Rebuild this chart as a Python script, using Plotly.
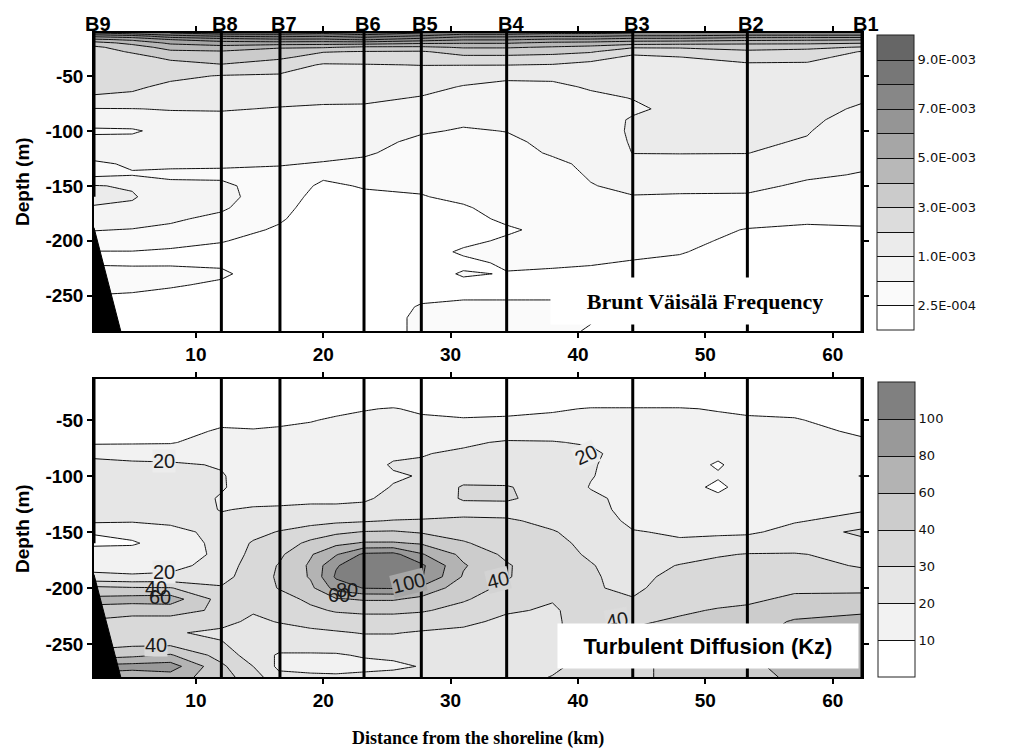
import numpy as np
import plotly.graph_objects as go

# ---------------- Brunt-Väisälä frequency (N², units of 1e-3 s^-2) ----------------
n2_depth = [-11, -14, -17, -20, -24, -28, -33, -40, -50, -60, -70, -80, -90, -100, -110,
            -120, -130, -140, -150, -160, -170, -180, -190, -200, -210, -220, -230, -240,
            -250, -260, -270, -282]
n2_dist = [2, 5, 8, 12, 16.5, 20, 23.2, 27.7, 31, 34.4, 38, 41, 44.3, 48, 53.3, 58, 62.3]

n2_km02 = [8.0, 6.2, 4.8, 3.6, 2.8, 2.6, 2.5, 2.4, 2.3, 2.25, 1.9, 0.98, 0.8, 0.45, 0.7, 0.6,
           0.48, 0.45, 1.05, 1.2, 0.97, 0.7, 0.52, 0.4, 0.24, 0.22, 0.35, 0.35, 0.24, 0.15, 0.12, 0.1]
n2_km05 = [8.5, 6.5, 5.2, 4.3, 3.5, 3.1, 2.7, 2.5, 2.35, 2.15, 1.8, 0.99, 0.85, 0.46, 0.7, 0.62,
           0.53, 0.49, 0.95, 1.1, 0.9, 0.7, 0.49, 0.4, 0.24, 0.22, 0.32, 0.3, 0.23, 0.15, 0.12, 0.1]
n2_km08 = [9.0, 7.5, 6.0, 5.2, 4.4, 3.8, 3.2, 2.7, 2.2, 1.8, 1.5, 1.05, 0.85, 0.72, 0.68, 0.62,
           0.55, 0.47, 0.58, 0.7, 0.65, 0.56, 0.46, 0.32, 0.22, 0.23, 0.3, 0.27, 0.2, 0.15, 0.13, 0.1]
n2_km12 = [9.5, 8.0, 6.5, 5.6, 4.6, 3.9, 3.5, 2.95, 1.95, 1.6, 1.35, 1.08, 0.85, 0.75, 0.7, 0.62,
           0.54, 0.47, 0.56, 0.62, 0.56, 0.45, 0.35, 0.26, 0.2, 0.22, 0.28, 0.22, 0.18, 0.15, 0.12, 0.1]
n2_km16 = [9.5, 8.2, 6.8, 5.6, 4.1, 3.6, 3.2, 2.5, 1.9, 1.55, 1.3, 0.97, 0.85, 0.75, 0.68, 0.6,
           0.52, 0.46, 0.42, 0.38, 0.33, 0.28, 0.22, 0.18, 0.15, 0.14, 0.13, 0.12, 0.12, 0.11, 0.1, 0.1]
n2_km20 = [9.2, 8.0, 6.8, 5.5, 4.1, 3.05, 2.6, 1.9, 1.6, 1.35, 1.15, 0.95, 0.85, 0.75, 0.68, 0.58,
           0.49, 0.3, 0.2, 0.15, 0.12, 0.11, 0.1, 0.1, 0.1, 0.1, 0.1, 0.1, 0.1, 0.1, 0.1, 0.1]
n2_km23 = [9.6, 8.4, 7.1, 5.5, 3.8, 2.95, 2.5, 1.95, 1.65, 1.4, 1.2, 0.92, 0.82, 0.72, 0.65, 0.56,
           0.45, 0.35, 0.27, 0.2, 0.15, 0.13, 0.12, 0.12, 0.11, 0.1, 0.1, 0.1, 0.1, 0.1, 0.1, 0.1]
n2_km28 = [9.0, 7.8, 6.5, 5.2, 3.8, 2.9, 2.5, 2.02, 1.6, 1.3, 0.97, 0.85, 0.7, 0.55, 0.45, 0.4,
           0.36, 0.32, 0.28, 0.24, 0.2, 0.18, 0.17, 0.16, 0.16, 0.15, 0.16, 0.18, 0.2, 0.27, 0.3, 0.3]
n2_km31 = [8.5, 7.2, 6.1, 5.1, 4.1, 3.4, 2.8, 2.02, 1.4, 0.97, 0.85, 0.72, 0.58, 0.48, 0.42, 0.4,
           0.38, 0.36, 0.33, 0.29, 0.23, 0.18, 0.17, 0.2, 0.28, 0.2, 0.27, 0.2, 0.22, 0.3, 0.32, 0.32]
n2_km34 = [8.5, 7.2, 6.1, 5.1, 4.1, 3.4, 2.8, 2.02, 1.15, 0.9, 0.8, 0.72, 0.62, 0.51, 0.46, 0.43,
           0.4, 0.38, 0.36, 0.34, 0.32, 0.29, 0.22, 0.28, 0.3, 0.28, 0.24, 0.2, 0.22, 0.3, 0.32, 0.32]
n2_km38 = [8.2, 7.05, 5.8, 4.8, 3.9, 3.3, 2.7, 1.95, 1.2, 0.9, 0.8, 0.75, 0.7, 0.65, 0.6, 0.54,
           0.46, 0.42, 0.38, 0.35, 0.33, 0.32, 0.31, 0.3, 0.29, 0.27, 0.23, 0.2, 0.22, 0.3, 0.3, 0.28]
n2_km41 = [8.2, 7.05, 5.8, 4.7, 3.7, 3.1, 2.4, 1.7, 1.4, 1.1, 0.9, 0.82, 0.75, 0.7, 0.66, 0.62,
           0.58, 0.54, 0.49, 0.45, 0.4, 0.36, 0.33, 0.31, 0.29, 0.26, 0.22, 0.2, 0.2, 0.24, 0.26, 0.24]
n2_km44 = [8.0, 6.8, 5.5, 4.5, 3.1, 2.3, 1.8, 1.6, 1.4, 1.2, 1.03, 0.92, 1.1, 1.15, 1.1, 1.02,
           0.85, 0.7, 0.6, 0.49, 0.42, 0.37, 0.33, 0.3, 0.28, 0.24, 0.2, 0.18, 0.17, 0.16, 0.15, 0.15]
n2_km48 = [8.0, 6.8, 5.5, 4.4, 3.1, 2.5, 1.98, 1.7, 1.5, 1.35, 1.3, 1.25, 1.2, 1.15, 1.1, 1.03,
           0.85, 0.72, 0.6, 0.48, 0.42, 0.37, 0.33, 0.3, 0.26, 0.22, 0.2, 0.18, 0.17, 0.16, 0.15, 0.15]
n2_km53 = [8.0, 6.5, 5.3, 4.2, 3.4, 2.8, 2.4, 1.85, 1.6, 1.45, 1.35, 1.3, 1.25, 1.2, 1.12, 1.02,
           0.85, 0.7, 0.58, 0.48, 0.4, 0.32, 0.24, 0.2, 0.18, 0.17, 0.16, 0.15, 0.15, 0.15, 0.15, 0.15]
n2_km58 = [8.0, 6.5, 5.2, 4.2, 3.3, 2.6, 2.2, 1.9, 1.6, 1.45, 1.35, 1.25, 1.15, 1.05, 0.97, 0.8,
           0.65, 0.55, 0.47, 0.4, 0.34, 0.28, 0.22, 0.18, 0.17, 0.16, 0.15, 0.15, 0.15, 0.15, 0.15, 0.15]
n2_km62 = [8.0, 6.5, 5.1, 4.1, 2.9, 1.95, 1.75, 1.6, 1.4, 1.25, 1.1, 0.95, 0.85, 0.75, 0.68, 0.62,
           0.55, 0.49, 0.44, 0.38, 0.33, 0.29, 0.23, 0.2, 0.18, 0.17, 0.16, 0.15, 0.15, 0.15, 0.15, 0.15]

n2_columns = [n2_km02, n2_km05, n2_km08, n2_km12, n2_km16, n2_km20, n2_km23, n2_km28, n2_km31,
              n2_km34, n2_km38, n2_km41, n2_km44, n2_km48, n2_km53, n2_km58, n2_km62]

# contour levels (s^-2) and their colour-bar labels
n2_levels = [2.5e-4, 5e-4, 1e-3, 2e-3, 3e-3, 4e-3, 5e-3, 6e-3, 7e-3, 8e-3, 9e-3]
n2_labelled = [2.5e-4, 1e-3, 3e-3, 5e-3, 7e-3, 9e-3]
n2_label_text = ["2.5E-004", "1.0E-003", "3.0E-003", "5.0E-003", "7.0E-003", "9.0E-003"]

# ---------------- Turbulent diffusion Kz ----------------
kz_depth = [-13, -30, -40, -50, -60, -70, -80, -90, -100, -110, -120, -130, -140, -150, -160,
            -170, -180, -190, -200, -210, -220, -230, -240, -250, -260, -270, -280]
kz_dist = [2, 5, 8, 12, 14.5, 16.5, 19, 21, 23.2, 25.5, 27.7, 31, 34.4, 38, 41, 44.3, 48, 51,
           53.3, 57, 62.3]

kz_km02 = [3, 4, 5, 6, 7, 8.5, 17.5, 23, 25, 26, 26, 25, 22, 10.5, 8.5, 14, 17, 22, 45, 65, 55,
           38, 32, 36, 50, 85, 75]
kz_km05 = [3, 4, 5, 6, 7, 9, 16, 22, 25, 26, 26, 25, 21, 13, 9, 14, 17, 21, 42, 68, 48, 36, 31,
           38, 55, 88, 65]
kz_km08 = [3, 4, 5, 6, 7, 9.5, 14, 22, 25, 27, 27, 26, 22, 17, 14, 15, 17, 22, 41, 70, 48, 36,
           31, 38, 62, 90, 70]
kz_km12 = [3, 4, 5, 8, 11, 13, 16, 19, 21, 21, 19, 19.5, 22, 23, 23, 22, 24, 26, 31, 36, 38, 33,
           28, 31, 36, 44, 48]
kz_km14 = [3, 4, 5, 8, 10.5, 12, 13, 14, 14, 15, 17, 21, 24, 27, 31, 33, 35, 36, 34, 32, 31, 28,
           26, 24, 25, 30, 35]
kz_km16 = [3, 4, 6, 8.5, 11, 12, 13, 14, 15, 16, 18, 21, 25, 30.5, 34, 38, 41, 42, 41, 36, 33,
           30.5, 26, 24, 19, 18, 23]
kz_km19 = [3, 4, 6.5, 9.5, 12, 13, 13, 14, 15, 16, 18, 22, 27, 34, 45, 58, 63, 62, 55, 44, 38,
           33, 28, 24, 19, 17, 22]
kz_km21 = [3, 5, 8, 11, 12, 13, 14, 14, 15, 16, 18, 22, 28, 38, 55, 78, 98, 103, 88, 58, 42, 35,
           29, 25, 19, 16, 22]
kz_km23 = [3, 5, 9.5, 12, 13, 14, 15, 16, 16, 17, 19, 22, 29, 41, 62, 104, 115, 112, 101, 62, 44,
           36, 30.5, 26, 21, 17, 23]
kz_km25 = [3, 5, 10.5, 12, 14, 16, 18, 21, 19, 20.5, 22, 23, 30.5, 42, 62, 106, 116, 113, 102,
           62, 44, 36, 30.5, 26, 22, 18, 24]
kz_km28 = [3, 5, 8.5, 11.5, 13, 16, 19.5, 21, 20.5, 22, 23, 24, 31, 39, 58, 82, 104, 102, 76,
           55, 42, 35, 29, 26, 23, 20.5, 25]
kz_km31 = [3, 5, 8, 10.5, 14, 18.5, 21.5, 23, 26, 31, 31, 26, 32, 36, 42, 55, 62, 58, 48, 42,
           37, 32, 28, 26, 24, 23, 26]
kz_km34 = [3, 5, 8, 11, 15, 21, 23, 25, 27, 30.5, 31, 27, 31, 33, 35, 38, 42, 42, 38, 35, 31,
           28, 26, 25, 24, 24, 26]
kz_km38 = [3, 5, 9, 12, 16, 20.5, 22, 24, 26, 27, 27, 25, 28, 30.5, 32, 33, 33, 32, 31, 30.5,
           29, 28, 27, 27, 27, 28, 30.5]
kz_km41 = [3, 5, 10.5, 12, 15, 19, 22, 21, 20.5, 19.5, 22, 23, 25, 27, 28, 29, 30.5, 31, 31, 32,
           34, 36, 38, 38, 36, 34, 35]
kz_km44 = [3, 5, 10.5, 12, 13, 14, 15, 15, 15.5, 16, 17, 17, 18, 20.5, 22, 24, 26, 27, 28, 30.5,
           33, 39, 42, 42, 40.5, 38, 38]
kz_km48 = [3, 5, 10.5, 12, 13, 13, 13, 12, 12, 12, 13, 15, 17, 19, 21, 26, 30.5, 33, 35, 37, 39,
           42, 45, 46, 46, 45, 45]
kz_km51 = [3, 5, 9.5, 11.5, 12, 12, 11, 9.5, 10.5, 9, 11, 15, 17, 19, 22, 29, 33, 35, 36, 38, 41,
           46, 50, 52, 52, 50, 50]
kz_km53 = [3, 5, 8.5, 11, 12, 12, 12, 12, 12, 12, 13, 16, 17, 19, 23, 30.5, 34, 36, 37, 39, 42,
           50, 55, 58, 61, 58, 56]
kz_km57 = [3, 5, 8, 10.5, 12, 12.5, 13, 13, 14, 14, 15, 18, 19.5, 22, 26, 30.5, 34, 36, 39, 42,
           52, 62, 65, 66, 65, 63, 62]
kz_km62 = [3, 4, 5, 7, 9, 11, 12, 12, 9.8, 12, 15, 19.5, 22, 33, 26, 28, 29, 34, 38, 45, 58, 64,
           66, 66, 65, 64, 62]

kz_columns = [kz_km02, kz_km05, kz_km08, kz_km12, kz_km14, kz_km16, kz_km19, kz_km21, kz_km23,
              kz_km25, kz_km28, kz_km31, kz_km34, kz_km38, kz_km41, kz_km44, kz_km48, kz_km51,
              kz_km53, kz_km57, kz_km62]

kz_levels = [10, 20, 30, 40, 60, 80, 100]

# in-plot contour labels for Kz
kz_tag_text = ["20", "20", "40", "60", "40", "60", "80", "100", "40", "20", "40"]
kz_tag_km = [7.5, 7.5, 6.9, 7.2, 6.9, 21.2, 21.9, 26.7, 33.7, 40.6, 43.1]
kz_tag_depth = [-86.6, -185.4, -200.3, -207.8, -250.9, -206, -201.8, -195.8, -192.9, -81.3, -228.6]
kz_tag_angle = [0, 0, 0, 0, 0, 0, 0, -14, -14, -25, -10]
kz_tag_bg = ["#ececec", "#ececec", "rgba(0,0,0,0)", "rgba(0,0,0,0)", "#d9d9d9", "rgba(0,0,0,0)",
             "rgba(0,0,0,0)", "#a6a6a6", "#d3d3d3", "#ececec", "#dcdcdc"]

# ---------------- stations and bottom slope ----------------
station_names = ["B9", "B8", "B7", "B6", "B5", "B4", "B3", "B2", "B1"]
station_km = [2.0, 12.0, 16.6, 23.2, 27.7, 34.4, 44.3, 53.3, 62.3]
station_floor = [-160, None, None, None, None, None, None, None, None]
slope_km = [2.0, 4.1, 2.0]
slope_top = -188

N2_COLORS = ["#ffffff", "#fafafa", "#f4f4f4", "#ebebeb", "#dcdcdc", "#cbcbcb",
             "#b8b8b8", "#a6a6a6", "#959595", "#878787", "#777777", "#666666"]
KZ_COLORS = ["#ffffff", "#f2f2f2", "#e6e6e6", "#d9d9d9", "#cccccc", "#b3b3b3",
             "#999999", "#808080"]

W, H = 1028, 755
X_DOM = [94 / W, 862 / W]
TOP_DOM = [1 - 331 / H, 1 - 33 / H]
BOT_DOM = [1 - 677 / H, 1 - 379 / H]
TOP_RANGE = [-282, -11]
BOT_RANGE = [-279.5, -13.4]
X_RANGE = [2.0, 62.3]


def band_index(values, levels):
    """Map physical values onto evenly spaced contour-band indices."""
    lo = 0.0
    hi = levels[-1] + (levels[-1] - levels[-2])
    edges = [lo] + list(levels) + [hi]
    return np.interp(values, edges, np.arange(len(edges)))


def stepped_scale(colors):
    n = len(colors) - 1
    return [[i / n, c] for i, c in enumerate(colors)]


n2_grid = np.array(n2_columns, dtype=float).T * 1e-3
kz_grid = np.array(kz_columns, dtype=float).T

n2_z = band_index(n2_grid, n2_levels)
kz_z = band_index(kz_grid, kz_levels)

cb_font = dict(family="DejaVu Sans", size=13, color="#111")

fig = go.Figure()

fig.add_trace(go.Contour(
    x=n2_dist, y=n2_depth, z=n2_z, xaxis="x", yaxis="y",
    zmin=0, zmax=len(n2_levels) + 1,
    contours=dict(start=1, end=len(n2_levels), size=1, coloring="fill", showlines=True),
    line=dict(color="#111111", width=1, smoothing=0),
    colorscale=stepped_scale(N2_COLORS), hoverinfo="skip",
    colorbar=dict(
        x=877 / W, xanchor="left", xpad=0, ypad=0,
        y=1 - 182.5 / H, yanchor="middle", len=295, lenmode="pixels", thickness=37,
        outlinewidth=1, outlinecolor="#222",
        tickvals=list(band_index(np.array(n2_labelled), n2_levels)),
        ticktext=n2_label_text, ticks="", tickfont=cb_font,
    ),
))

fig.add_trace(go.Contour(
    x=kz_dist, y=kz_depth, z=kz_z, xaxis="x2", yaxis="y2",
    zmin=0, zmax=len(kz_levels) + 1,
    contours=dict(start=1, end=len(kz_levels), size=1, coloring="fill", showlines=True),
    line=dict(color="#111111", width=1, smoothing=0),
    colorscale=stepped_scale(KZ_COLORS), hoverinfo="skip",
    colorbar=dict(
        x=878 / W, xanchor="left", xpad=0, ypad=0,
        y=1 - 529.5 / H, yanchor="middle", len=295, lenmode="pixels", thickness=37,
        outlinewidth=1, outlinecolor="#222",
        tickvals=list(band_index(np.array(kz_levels, dtype=float), kz_levels)),
        ticktext=[str(v) for v in kz_levels], ticks="", tickfont=cb_font,
    ),
))

# sloping sea floor at the inshore end of both sections
for xa, ya, rng in (("x", "y", TOP_RANGE), ("x2", "y2", BOT_RANGE)):
    fig.add_trace(go.Scatter(
        x=slope_km, y=[slope_top, rng[0], rng[0]], xaxis=xa, yaxis=ya,
        mode="lines", fill="toself", fillcolor="black",
        line=dict(color="black", width=1), hoverinfo="skip", showlegend=False,
    ))

shapes = []
for xa, ya, rng in (("x", "y", TOP_RANGE), ("x2", "y2", BOT_RANGE)):
    for km, floor in zip(station_km, station_floor):
        shapes.append(dict(
            type="line", xref=xa, yref=ya, layer="above",
            x0=km, x1=km, y0=rng[1], y1=floor if floor is not None else rng[0],
            line=dict(color="black", width=3),
        ))

annotations = []
for name, km in zip(station_names, station_km):
    annotations.append(dict(
        x=km, y=1 - 24 / H, xref="x", yref="paper", text=name, showarrow=False,
        xshift=4, xanchor="center", yanchor="middle",
        font=dict(family="Liberation Sans", size=20, color="black", weight="bold"),
    ))

for txt, km, dep, ang, bg in zip(kz_tag_text, kz_tag_km, kz_tag_depth, kz_tag_angle, kz_tag_bg):
    annotations.append(dict(
        x=km, y=dep, xref="x2", yref="y2", text=txt, showarrow=False, textangle=ang,
        bgcolor=bg, borderpad=0,
        font=dict(family="Liberation Sans", size=20, color="#1a1a1a"),
    ))

annotations.append(dict(
    x=49.95, y=-254.5, xref="x", yref="y", text="Brunt Väisälä Frequency", showarrow=False,
    width=308, height=46, bgcolor="white", borderpad=0,
    font=dict(family="Liberation Serif", size=22, color="black", weight="bold"),
))
annotations.append(dict(
    x=50.2, y=-251.8, xref="x2", yref="y2", text="Turbulent Diffusion (Kz)", showarrow=False,
    width=300, height=44, bgcolor="white", borderpad=0,
    font=dict(family="Liberation Sans", size=22, color="black", weight="bold"),
))

for yc in (182, 529):
    annotations.append(dict(
        x=22 / W, y=1 - yc / H, xref="paper", yref="paper", text="Depth (m)",
        showarrow=False, textangle=-90, xanchor="center", yanchor="middle",
        font=dict(family="Liberation Sans", size=19, color="black", weight="bold"),
    ))

annotations.append(dict(
    x=478 / W, y=1 - 738 / H, xref="paper", yref="paper",
    text="Distance from the shoreline (km)", showarrow=False,
    xanchor="center", yanchor="middle",
    font=dict(family="Liberation Serif", size=18, color="black", weight="bold"),
))

tick_font = dict(family="Liberation Sans", size=19, color="black", weight="bold")
depth_ticks = [-50, -100, -150, -200, -250]
dist_ticks = [10, 20, 30, 40, 50, 60]

xaxis_common = dict(
    range=X_RANGE, domain=X_DOM, tickvals=dist_ticks, ticktext=[str(t) for t in dist_ticks],
    ticks="outside", ticklen=5, tickwidth=1.5, tickcolor="black",
    showline=True, linecolor="black", linewidth=1.5, mirror="ticks",
    showgrid=False, zeroline=False, tickfont=tick_font,
)
yaxis_common = dict(
    tickvals=depth_ticks, ticktext=[str(t) for t in depth_ticks],
    ticks="outside", ticklen=5, tickwidth=1.5, tickcolor="black",
    showline=True, linecolor="black", linewidth=1.5, mirror="ticks",
    showgrid=False, zeroline=False, tickfont=tick_font,
)

fig.update_layout(
    width=W, height=H, margin=dict(l=0, r=0, t=0, b=0),
    paper_bgcolor="white", plot_bgcolor="white", showlegend=False,
    xaxis=dict(anchor="y", **xaxis_common),
    yaxis=dict(anchor="x", domain=TOP_DOM, range=TOP_RANGE, **yaxis_common),
    xaxis2=dict(anchor="y2", **xaxis_common),
    yaxis2=dict(anchor="x2", domain=BOT_DOM, range=BOT_RANGE, **yaxis_common),
    shapes=shapes, annotations=annotations,
)

fig.write_html("out.html")
